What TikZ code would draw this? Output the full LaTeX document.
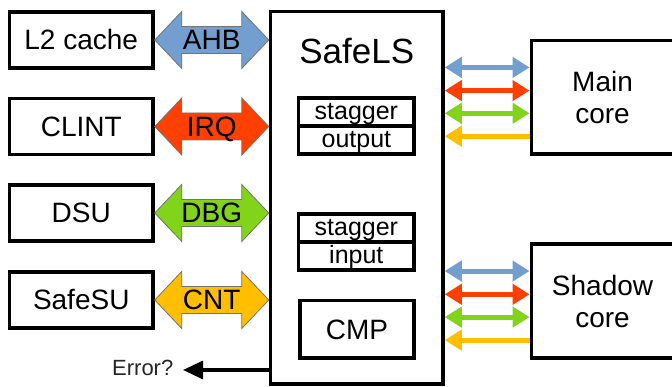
\documentclass[tikz,border=0pt]{standalone}
\usepackage{fontspec}
\setmainfont{Liberation Sans}
\usetikzlibrary{calc,arrows.meta}

\definecolor{busblue}{HTML}{729FCF}
\definecolor{busred}{HTML}{FF4000}
\definecolor{busgreen}{HTML}{81D41A}
\definecolor{busorange}{HTML}{FFBF00}

\tikzset{
  unit/.style={draw, line width=3.5pt, rectangle, inner sep=0pt,
    font=\fontsize{28}{32}\selectfont, align=center},
  periph/.style={unit, minimum width=143.5pt, minimum height=56pt,
    text height=20pt, text depth=0pt},
  half/.style={unit, minimum width=115.3pt, minimum height=28pt,
    font=\fontsize{25}{28}\selectfont, text height=19pt, text depth=4pt},
  busline/.style={draw=black!55, line width=0.8pt},
  buslabel/.style={inner sep=0pt, font=\fontsize{28}{32}\selectfont,
    text height=20pt, text depth=0pt},
  link/.style={line width=5pt},
  linkhead/.tip={Triangle[length=17pt,width=20pt]},
}

% Block double arrow between a peripheral and SafeLS
\newcommand\busarrow[4]{%
  \path (#1.east) coordinate (#4a) (safels.west |- #1.east) coordinate (#4b);
  \filldraw[busline, fill=#2] (#4a) -- ++(27,-28.5) -- ++(0,15)
    -- ($(#4b)+(-27,-13.5)$) -- ++(0,-15) -- (#4b) -- ++(-27,28.5)
    -- ++(0,-15) -- ($(#4a)+(27,13.5)$) -- ++(0,15) -- cycle;
  \node[buslabel] (#4) at ($(#4a)!0.5!(#4b)$) {#3};
}

\begin{document}
\begin{tikzpicture}[x=1pt, y=-1pt]
\useasboundingbox (0,0) rectangle (672,387);
\clip (0,0) rectangle (672,387);

% peripherals
\node[periph] (l2)     at (81.25,40)  {L2 cache};
\node[periph] (clint)  at (81.25,126.5) {CLINT};
\node[periph] (dsu)    at (81.25,213) {DSU};
\node[periph] (safesu) at (81.25,300) {SafeSU};

% lockstep unit
\node[unit, minimum width=172.5pt, minimum height=372.7pt] (safels) at (356.75,197.65) {};
\node[inner sep=0pt, font=\fontsize{35}{40}\selectfont, anchor=base] (title) at (356.7,64) {SafeLS};
\node[half] (so1) at (356.35,112) {stagger};
\node[half] (so2) at (356.35,140) {output};
\node[half] (si1) at (356.35,228) {stagger};
\node[half] (si2) at (356.35,256.2) {input};
\node[unit, minimum width=114.3pt, minimum height=57.5pt, text height=20pt, text depth=0pt] (cmp) at (356.9,329.25) {CMP};

% cores
\node[unit, minimum width=142.5pt, minimum height=113.5pt] (main) at (602.55,97.25) {Main\\core};
\node[unit, minimum width=142.5pt, minimum height=114pt] (shadow) at (602.55,301) {Shadow\\core};

% buses to the peripherals
\busarrow{l2}{busblue}{AHB}{ahb}
\busarrow{clint}{busred}{IRQ}{irq}
\busarrow{dsu}{busgreen}{DBG}{dbg}
\busarrow{safesu}{busorange}{CNT}{cnt}

% links to the cores
\foreach \c in {main,shadow}{
  \coordinate (\c1) at ($(\c.north west)!0.245!(\c.south west)$);
  \coordinate (\c2) at ($(\c.north west)!0.443!(\c.south west)$);
  \coordinate (\c3) at ($(\c.north west)!0.637!(\c.south west)$);
  \coordinate (\c4) at ($(\c.north west)!0.833!(\c.south west)$);
  \draw[link, busblue, linkhead-linkhead] (safels.east |- \c1) -- (\c1);
  \draw[link, busred, linkhead-linkhead] (safels.east |- \c2) -- (\c2);
  \draw[link, busgreen, linkhead-linkhead] (safels.east |- \c3) -- (\c3);
  \draw[link, busorange, -linkhead] (\c4) -- (safels.east |- \c4);
}

% error output
\coordinate (errtip) at (183,370);
\draw[line width=3.3pt, -{Triangle[length=20pt,width=18pt]}] (safels.west |- errtip) -- (errtip);
\node[inner sep=0pt, anchor=base east, font=\fontsize{22}{26}\selectfont, text=black!85] (err) at (173.5,375.5) {Error?};
\end{tikzpicture}
\end{document}
